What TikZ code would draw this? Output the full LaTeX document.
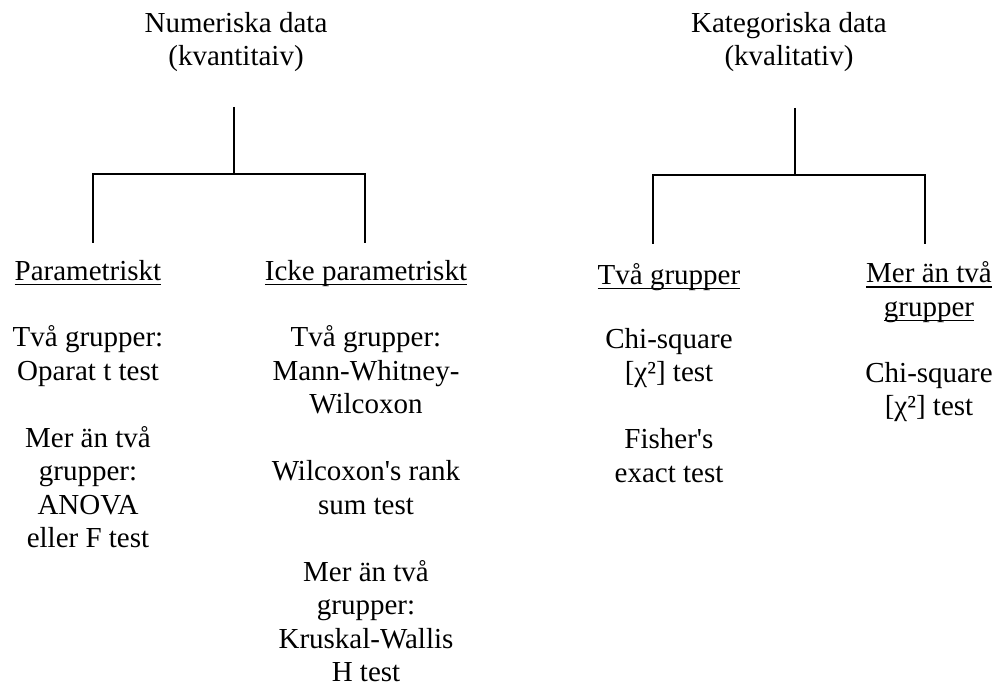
\documentclass[tikz,border=0pt]{standalone}
\usepackage{fontspec}
\setmainfont{Liberation Serif}
\usetikzlibrary{positioning}

% Word-style underline at a fixed depth
\newcommand{\undl}[1]{\setbox0\hbox{#1}\rlap{\rule[-2.3pt]{\wd0}{0.7pt}}\box0}

\begin{document}
\begin{tikzpicture}[x=0.5pt, y=-0.5pt,
        txt/.style={inner sep=0pt, align=center, anchor=north, yshift=11.725pt,
            font=\fontsize{14.5}{16.75}\selectfont, execute at begin node=\strut},
        link/.style={line width=1pt}
    ]
    \useasboundingbox (0,0) rectangle (998,689);

    % titles (placed at first baseline)
    \node[txt] (num) at (236,35) {Numeriska data\\(kvantitaiv)};
    \node[txt] (kat) at (789,35) {Kategoriska data\\(kvalitativ)};

    % headers
    \node[txt] (param) at (88,280) {\undl{Parametriskt}};
    \node[txt] (icke) at (366,280) {\undl{Icke parametriskt}};
    \node[txt] (tva) at (669,284) {\undl{Två grupper}};
    \node[txt] (mer) at (929,285) {\undl{Mer än två}\\\undl{grupper}};

    % tests
    \node[txt] (parambody) at (88,349) {Två grupper:\\Oparat t test\\[16.75pt]Mer än två\\grupper:\\ANOVA\\eller F test};
    \node[txt] (ickebody) at (366,349) {Två grupper:\\Mann-Whitney-\\Wilcoxon\\[16.75pt]Wilcoxon\textquotesingle s rank\\sum test\\[16.75pt]Mer än två\\grupper:\\Kruskal-Wallis\\H test};
    \node[txt] (tvabody) at (669,351) {Chi-square\\{}[χ²] test\\[16.75pt]Fisher\textquotesingle s\\exact test};
    \node[txt] (merbody) at (929,385) {Chi-square\\{}[χ²] test};

    % tree joints
    \coordinate (numtop) at (234,107);
    \coordinate (numjoin) at (234,174);
    \coordinate (paramend) at (93,243);
    \coordinate (ickeend) at (365,243);
    \coordinate (kattop) at (795,108);
    \coordinate (katjoin) at (795,175);
    \coordinate (tvaend) at (653,244);
    \coordinate (merend) at (925,244);

    \draw[link] (numtop) -- (numjoin);
    \draw[link] (paramend) |- (numjoin) -| (ickeend);
    \draw[link] (kattop) -- (katjoin);
    \draw[link] (tvaend) |- (katjoin) -| (merend);
\end{tikzpicture}
\end{document}
